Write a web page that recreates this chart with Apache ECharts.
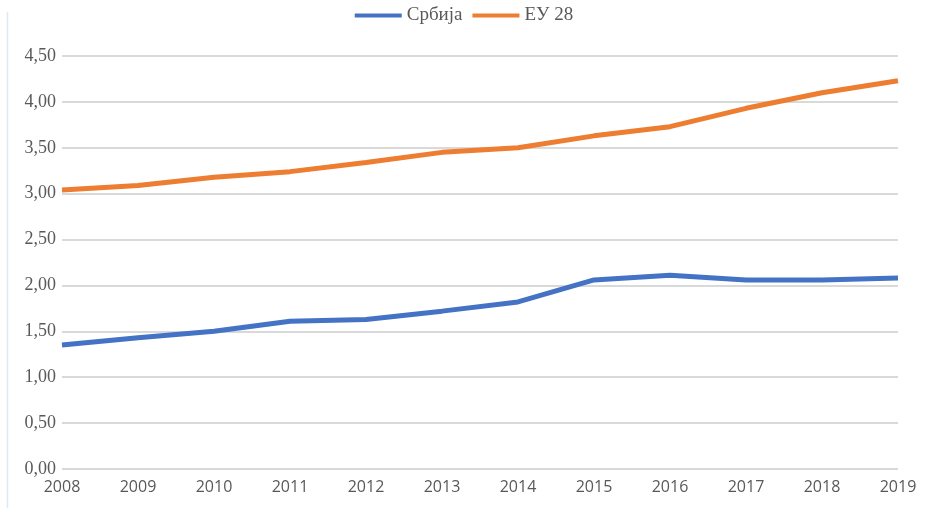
<!DOCTYPE html>
<html><head><meta charset="utf-8">
<script src="https://cdn.jsdelivr.net/npm/echarts@6/dist/echarts.min.js"></script>
<style>html,body{margin:0;padding:0;background:#fff}#c{width:928px;height:508px}</style>
</head><body><div id="c"></div>
<script>
const years = ['2008','2009','2010','2011','2012','2013','2014','2015','2016','2017','2018','2019'];
const serbia = [1.35,1.43,1.50,1.61,1.63,1.72,1.82,2.06,2.11,2.06,2.06,2.08];
const eu28 = [3.04,3.09,3.18,3.24,3.34,3.45,3.50,3.63,3.73,3.93,4.10,4.23];
const seriesNames = ['Србија','ЕУ 28'];
const chart = echarts.init(document.getElementById('c'));
chart.setOption({
  animation:false,
  backgroundColor:'#fff',
  color:['#4472c4','#ed7d31'],
  legend:{top:1,left:'center',itemWidth:47,itemHeight:4,itemGap:10,icon:'rect',
    textStyle:{fontFamily:'Liberation Serif',fontSize:19,color:'#595959'}},
  grid:{left:62,right:30,top:56,bottom:39},
  xAxis:{type:'category',data:years,boundaryGap:false,
    axisLine:{show:false},axisTick:{show:false},
    axisLabel:{fontFamily:'Open Sans',fontSize:16,color:'#595959',margin:10}},
  yAxis:{type:'value',min:0,max:4.5,interval:0.5,
    axisLine:{show:false},axisTick:{show:false},
    splitLine:{lineStyle:{color:'#d9d9d9',width:2}},
    axisLabel:{fontFamily:'Liberation Serif',fontSize:18,color:'#595959',margin:6,
      formatter:v=>v.toFixed(2).replace('.',',')}},
  series:[
    {name:seriesNames[0],type:'line',data:serbia,symbol:'none',lineStyle:{width:5}},
    {name:seriesNames[1],type:'line',data:eu28,symbol:'none',lineStyle:{width:5}}
  ],
  graphic:[
    {type:'line',shape:{x1:7.5,y1:12,x2:7.5,y2:508},style:{stroke:'#dbe8f6',lineWidth:1.5}},
    {type:'rect',shape:{x:300,y:0,width:320,height:5},style:{fill:'#fff'},z:100}
  ]
});
</script></body></html>
